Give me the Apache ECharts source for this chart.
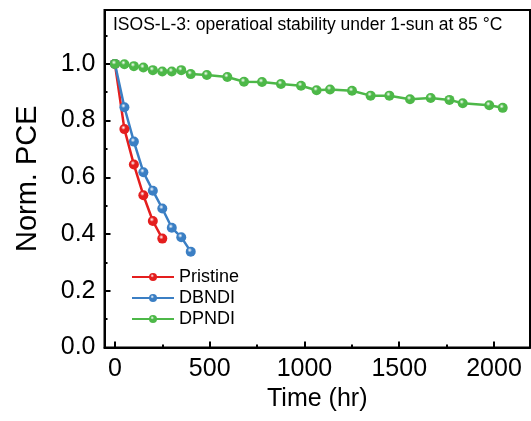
<!DOCTYPE html>
<html>
  <head>
    <meta charset="utf-8" />
    <title></title>
    <style type="text/css">
      html,
      body {
        margin: 0;
        width: 100%;
        height: 100%;
        background: #fff;
      }
      #main {
        width: 531px;
        height: 421px;
      }
    </style>
  </head>
  <body>
    <div id="main"></div>
    <script src="https://cdn.jsdelivr.net/npm/echarts@6/dist/echarts.min.js"></script>
    <script type="text/javascript">
      // 数据
      var pristineTime = [0, 50, 100, 150, 200, 250];
      var pristinePCE = [1.0, 0.77, 0.645, 0.537, 0.446, 0.384];

      var dbndiTime = [0, 50, 100, 150, 200, 250, 300, 350, 400];
      var dbndiPCE = [1.0, 0.847, 0.726, 0.618, 0.553, 0.49, 0.422, 0.389, 0.338];

      var dpndiTime = [0, 50, 100, 150, 200, 250, 300, 350, 400, 485, 593, 681, 776, 876, 982,
        1064, 1135, 1251, 1349, 1448, 1557, 1666, 1765, 1835, 1975, 2046];
      var dpndiPCE = [1.0, 0.999, 0.992, 0.987, 0.978, 0.973, 0.973, 0.978, 0.964, 0.961, 0.954,
        0.937, 0.936, 0.929, 0.923, 0.907, 0.91, 0.905, 0.888, 0.888, 0.875, 0.88, 0.873,
        0.861, 0.854, 0.845];

      var xMajor = [0, 500, 1000, 1500, 2000];
      var xMinor = [250, 750, 1250, 1750];
      var yMajor = [0, 0.2, 0.4, 0.6, 0.8, 1.0];
      var yMinor = [0.1, 0.3, 0.5, 0.7, 0.9, 1.1];

      var titleText = "ISOS-L-3: operatioal stability under 1-sun at 85 °C";

      var font = "Liberation Sans, Arial, sans-serif";

      function zip(xs, ys) {
        return xs.map(function (x, i) {
          return [x, ys[i]];
        });
      }

      // 带高光的小球
      function ball(color) {
        return {
          type: "radial",
          x: 0.4,
          y: 0.35,
          r: 0.65,
          colorStops: [
            { offset: 0, color: "#ffffff" },
            { offset: 0.35, color: color },
            { offset: 1, color: color },
          ],
        };
      }

      function makeSeries(name, color, xs, ys) {
        return {
          name: name,
          type: "line",
          data: zip(xs, ys),
          symbol: "circle",
          symbolSize: 10,
          showAllSymbol: true,
          lineStyle: { color: color, width: 2.5 },
          itemStyle: { color: ball(color), borderWidth: 0 },
          emphasis: { disabled: true },
        };
      }

      var myChart = echarts.init(document.getElementById("main"));

      var axisLine = { show: true, onZero: false, lineStyle: { color: "#000", width: 2 } };

      var option = {
        animation: false,
        backgroundColor: "#fff",
        textStyle: { fontFamily: font },
        title: {
          text: titleText,
          left: 108,
          top: 11,
          textStyle: { fontFamily: font, fontSize: 17.5, fontWeight: "normal", color: "#000" },
        },
        grid: {
          left: 104.5,
          right: 1,
          top: 10,
          bottom: 73.5,
          show: true,
          borderColor: "#000",
          borderWidth: 2,
        },
        legend: {
          left: 131,
          top: 268,
          padding: 0,
          orient: "vertical",
          itemWidth: 42,
          itemHeight: 10,
          itemGap: 3,
          textStyle: { fontFamily: font, fontSize: 18, color: "#000" },
          data: ["Pristine", "DBNDI", "DPNDI"],
        },
        xAxis: [
          {
            type: "value",
            min: -55,
            max: 2190,
            name: "Time (hr)",
            nameLocation: "middle",
            nameGap: 38,
            nameTextStyle: { fontFamily: font, fontSize: 25, color: "#000" },
            axisLine: axisLine,
            axisTick: { show: true, inside: true, length: 6, customValues: xMajor, lineStyle: { color: "#000", width: 2 } },
            axisLabel: {
              customValues: xMajor,
              fontFamily: font,
              fontSize: 25,
              color: "#000",
              margin: 9,
              formatter: function (v) {
                return String(v);
              },
            },
            splitLine: { show: false },
          },
          {
            type: "value",
            min: -55,
            max: 2190,
            position: "bottom",
            axisLine: { show: false, onZero: false },
            axisTick: { show: true, inside: true, length: 3, customValues: xMinor, lineStyle: { color: "#000", width: 2 } },
            axisLabel: { show: false },
            splitLine: { show: false },
          },
        ],
        yAxis: [
          {
            type: "value",
            min: 0,
            max: 1.19,
            name: "Norm. PCE",
            nameLocation: "middle",
            nameGap: 62,
            nameTextStyle: { fontFamily: font, fontSize: 29, color: "#000" },
            axisLine: axisLine,
            axisTick: { show: true, inside: true, length: 6, customValues: yMajor, lineStyle: { color: "#000", width: 2 } },
            axisLabel: {
              customValues: yMajor,
              fontFamily: font,
              fontSize: 25,
              color: "#000",
              margin: 9,
              formatter: function (v) {
                return v.toFixed(1);
              },
            },
            splitLine: { show: false },
          },
          {
            type: "value",
            min: 0,
            max: 1.19,
            position: "left",
            axisLine: { show: false, onZero: false },
            axisTick: { show: true, inside: true, length: 3, customValues: yMinor, lineStyle: { color: "#000", width: 2 } },
            axisLabel: { show: false },
            splitLine: { show: false },
          },
        ],
        series: [
          makeSeries("Pristine", "#e41e1e", pristineTime, pristinePCE),
          makeSeries("DBNDI", "#3b7fc4", dbndiTime, dbndiPCE),
          makeSeries("DPNDI", "#4db848", dpndiTime, dpndiPCE),
        ],
      };

      myChart.setOption(option);
    </script>
  </body>
</html>
